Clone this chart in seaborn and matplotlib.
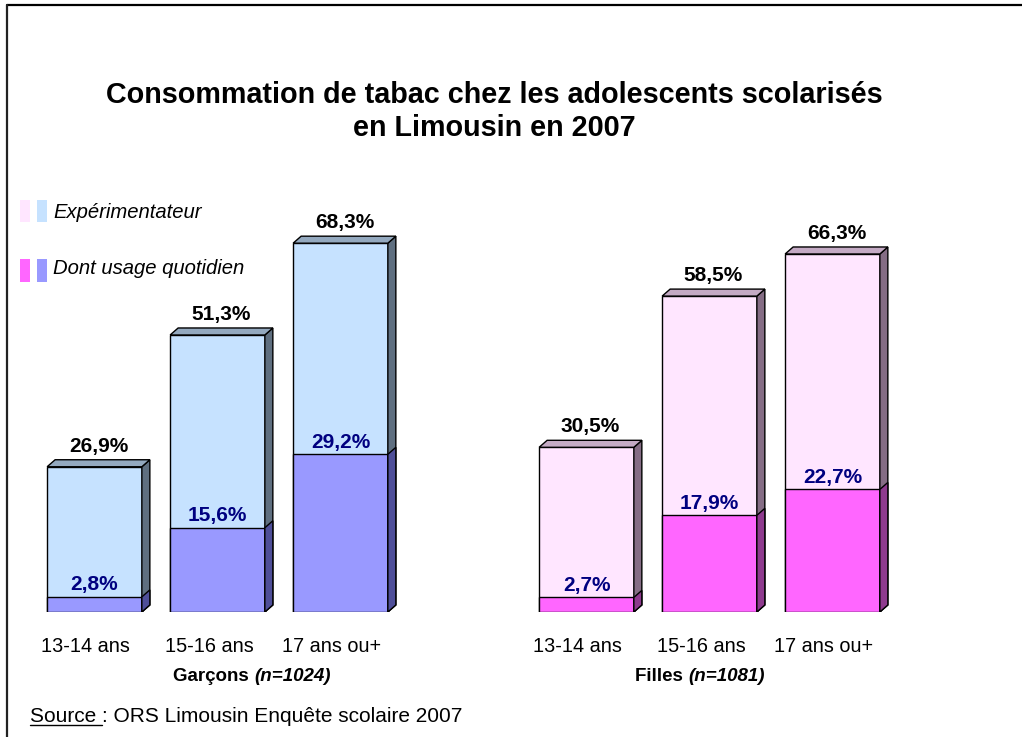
import pandas as pd
import matplotlib.pyplot as plt
import seaborn as sns
from matplotlib.patches import Polygon, Rectangle
from matplotlib.lines import Line2D

# data
ages = ["13-14 ans", "15-16 ans", "17 ans ou+"]
groupes = ["Garçons", "Filles"]
effectifs = ["(n=1024)", "(n=1081)"]
exp_garcons = [26.9, 51.3, 68.3]
daily_garcons = [2.8, 15.6, 29.2]
exp_filles = [30.5, 58.5, 66.3]
daily_filles = [2.7, 17.9, 22.7]

titre = "Consommation de tabac chez les adolescents scolarisés\nen Limousin en 2007"
legende = ["Expérimentateur", "Dont usage quotidien"]
source_a = "Source "
source_b = ": ORS Limousin Enquête scolaire 2007"

rows = []
for gi, (g, ev, dv) in enumerate(zip(groupes, [exp_garcons, exp_filles], [daily_garcons, daily_filles])):
    for ai, age in enumerate(ages):
        rows.append({"groupe": g, "age": age, "pos": gi * 4 + ai, "exp": ev[ai], "daily": dv[ai]})
df = pd.DataFrame(rows)

# colours
front = {"Garçons": "#C6E2FF", "Filles": "#FFE6FF"}
top = {"Garçons": "#94A9BF", "Filles": "#C4AAC4"}
side = {"Garçons": "#5F6F80", "Filles": "#856D85"}
daily_front = {"Garçons": "#9999FF", "Filles": "#FF66FF"}
daily_side = {"Garçons": "#4F4F99", "Filles": "#8E3A8E"}
navy = "#000080"

sns.set_style("white")
plt.rcParams["font.family"] = ["Liberation Sans", "DejaVu Sans"]
plt.rcParams["text.color"] = "black"
plt.rcParams["xtick.color"] = "black"
plt.rcParams["xtick.labelcolor"] = "black"

W, H = 1022, 737
fig = plt.figure(figsize=(W / 100, H / 100), dpi=100)
ax = fig.add_axes([20.7 / W, 125 / H, 7.2 * 123 / W, 80 * 5.4 / H])

sns.barplot(data=df, x="pos", y="exp", hue="groupe", palette=front, native_scale=True, saturation=1,
            width=0.77, dodge=False, edgecolor="black", linewidth=1, legend=False, ax=ax)
n_exp = len(ax.patches)
sns.barplot(data=df, x="pos", y="daily", hue="groupe", palette=daily_front, native_scale=True, saturation=1,
            width=0.77, dodge=False, edgecolor="black", linewidth=1, legend=False, ax=ax)
exp_bars = sorted(ax.patches[:n_exp], key=lambda p: p.get_x())
daily_bars = sorted(ax.patches[n_exp:], key=lambda p: p.get_x())

ax.set_xlim(-0.6, 6.6)
ax.set_ylim(0, 80)
ax.set_xlabel("")
ax.set_ylabel("")
sns.despine(ax=ax, left=True, bottom=True)
ax.set_yticks([])

# depth of the fake 3D effect, 8 px right and 7 px up
inv = ax.transData.inverted()
(x0d, y0d), (x1d, y1d) = inv.transform([(0, 0), (8, 7)])
dx, dy = x1d - x0d, y1d - y0d

dfs = df.sort_values("pos").reset_index(drop=True)
for (_, r), pe, pd_ in zip(dfs.iterrows(), exp_bars, daily_bars):
    g = r["groupe"]
    x0 = pe.get_x()
    x1 = x0 + pe.get_width()
    h = pe.get_height()
    d = pd_.get_height()
    ax.add_patch(Polygon([(x1, 0), (x1 + dx, dy), (x1 + dx, h + dy), (x1, h)],
                         closed=True, fc=side[g], ec="black", lw=1))
    ax.add_patch(Polygon([(x0, h), (x0 + dx, h + dy), (x1 + dx, h + dy), (x1, h)],
                         closed=True, fc=top[g], ec="black", lw=1))
    ax.add_patch(Polygon([(x1, 0), (x1 + dx, dy), (x1 + dx, d + dy), (x1, d)],
                         closed=True, fc=daily_side[g], ec="black", lw=1))
    xc = (x0 + x1) / 2
    ax.annotate(f"{r['exp']:.1f}%".replace(".", ","), xy=(xc + dx / 2, h + dy), xytext=(0, 3),
                textcoords="offset points", ha="center", va="bottom",
                fontsize=15, fontweight="bold", color="black")
    ax.annotate(f"{r['daily']:.1f}%".replace(".", ","), xy=(xc, d), xytext=(0, 2),
                textcoords="offset points", ha="center", va="bottom",
                fontsize=15, fontweight="bold", color=navy)

ax.set_xticks(dfs["pos"] - 0.07, labels=dfs["age"])
ax.tick_params(axis="x", length=0, pad=18, labelsize=14.3, labelcolor="black")

# group labels under the ticks
group_x = [1.3, 4.83]
for g, n, gx in zip(groupes, effectifs, group_x):
    ax.annotate(g + " ", xy=(gx, 0), xycoords=("data", "axes fraction"), xytext=(0, -46.5),
                textcoords="offset points", ha="right", va="center", fontsize=13.5, fontweight="bold")
    ax.annotate(n, xy=(gx, 0), xycoords=("data", "axes fraction"), xytext=(0, -46.5),
                textcoords="offset points", ha="left", va="center", fontsize=13.5,
                fontweight="bold", fontstyle="italic")

# title
fig.text(494.5 / W, 1 - 111.5 / H, titre, ha="center", va="center", fontsize=20.7,
         fontweight="bold", linespacing=1.25)


def px_rect(x, y, w, h, c):
    fig.add_artist(Rectangle((x / W, 1 - (y + h) / H), w / W, h / H,
                             transform=fig.transFigure, fc=c, lw=0))


# legend
px_rect(20, 200, 10, 22, front["Filles"])
px_rect(37, 200, 10, 22, front["Garçons"])
fig.text(53 / W, 1 - 212 / H, legende[0], ha="left", va="center", fontsize=14.6, fontstyle="italic")
px_rect(20, 259, 10, 23, daily_front["Filles"])
px_rect(37, 259, 10, 23, daily_front["Garçons"])
fig.text(53 / W, 1 - 268 / H, legende[1], ha="left", va="center", fontsize=14.6, fontstyle="italic")

# frame
fig.add_artist(Line2D([7 / W, 1], [1 - 5 / H, 1 - 5 / H], transform=fig.transFigure, color="black", lw=1.6))
fig.add_artist(Line2D([7 / W, 7 / W], [0, 1 - 5 / H], transform=fig.transFigure, color="#222222", lw=1.6))

# source with underlined first word
renderer = fig.canvas.get_renderer()
t = fig.text(30 / W, 1 - 722 / H, source_a, ha="left", va="baseline", fontsize=15)
bb = t.get_window_extent(renderer)
fig.text(bb.x1 / W, 1 - 722 / H, source_b, ha="left", va="baseline", fontsize=15)
fig.add_artist(Line2D([bb.x0 / W, bb.x1 / W], [1 - 725 / H, 1 - 725 / H],
                      transform=fig.transFigure, color="black", lw=1))

fig.savefig("out.png", dpi=100)
